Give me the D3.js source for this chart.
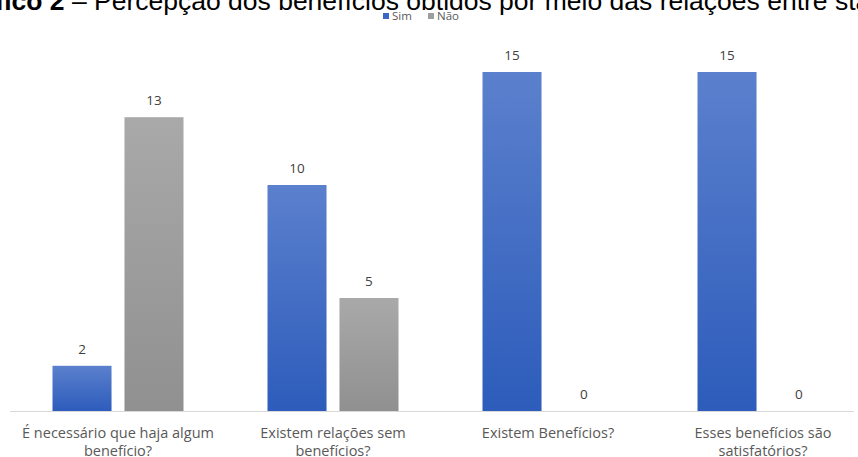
<!DOCTYPE html>
<html>
<head>
<meta charset="utf-8">
<script src="https://cdn.jsdelivr.net/npm/d3@7"></script>
<style>
  body { margin: 0; background: #fff; }
  svg { display: block; }
</style>
</head>
<body>
<div class="canvas"></div>
<script>
const categories = [
  ["É necessário que haja algum", "benefício?"],
  ["Existem relações sem", "benefícios?"],
  ["Existem Benefícios?"],
  ["Esses benefícios são", "satisfatórios?"]
];
const seriesNames = ["Sim", "Não"];
const sim = [2, 10, 15, 15];
const nao = [13, 5, 0, 0];

const dims = { w: 858, h: 457 };
const base = 411;

const svg = d3
  .select(".canvas")
  .append("svg")
  .attr("width", dims.w)
  .attr("height", dims.h);

const defs = svg.append("defs");
const grad = (id, top, bottom) => {
  const g = defs.append("linearGradient")
    .attr("id", id)
    .attr("x1", 0).attr("y1", 0).attr("x2", 0).attr("y2", 1);
  g.append("stop").attr("offset", "0%").attr("stop-color", top);
  g.append("stop").attr("offset", "100%").attr("stop-color", bottom);
};
grad("gSim", "#5b80cd", "#2d5cbb");
grad("gNao", "#a9a9a9", "#909090");
const fills = ["url(#gSim)", "url(#gNao)"];
const legendCols = ["#3a66c4", "#9d9d9d"];

// title (cut off at the top of the picture)
const title = svg.append("text")
  .attr("y", 9.5)
  .attr("font-family", "Liberation Sans, Arial, sans-serif")
  .attr("font-size", 26.5)
  .attr("fill", "#000");
const lead = title.append("tspan").attr("font-weight", "bold").text("Gráfico 2");
const dash = title.append("tspan").text(" – ");
title.append("tspan").text("Percepção dos benefícios obtidos por meio das relações entre stakeholders");
const prefixW = lead.node().getComputedTextLength() + dash.node().getComputedTextLength();
title.attr("x", 94 - prefixW);

const x0 = d3.scaleBand()
  .domain(d3.range(categories.length))
  .range([10.5, 870.5])
  .paddingInner(0)
  .paddingOuter(0);

const x1 = d3.scaleBand()
  .domain(seriesNames)
  .range([42, x0.bandwidth() - 42])
  .paddingInner(0.18);

const y = d3.scaleLinear().domain([0, 15]).range([base, 72]);

const data = categories.map((c, i) => ({ c, vals: [sim[i], nao[i]] }));

const groups = svg.selectAll("g.grp")
  .data(data)
  .enter()
  .append("g")
  .attr("class", "grp")
  .attr("transform", (d, i) => `translate(${x0(i)},0)`);

groups.selectAll("rect")
  .data(d => d.vals.map((v, k) => ({ v, k })))
  .enter()
  .append("rect")
  .attr("x", d => x1(seriesNames[d.k]))
  .attr("y", d => y(d.v))
  .attr("width", x1.bandwidth())
  .attr("height", d => base - y(d.v))
  .attr("fill", d => fills[d.k]);

groups.selectAll("text.val")
  .data(d => d.vals.map((v, k) => ({ v, k })))
  .enter()
  .append("text")
  .attr("class", "val")
  .attr("x", d => x1(seriesNames[d.k]) + x1.bandwidth() / 2)
  .attr("y", d => y(d.v) - 12)
  .attr("text-anchor", "middle")
  .attr("font-family", "Open Sans, sans-serif")
  .attr("font-size", 13.5)
  .attr("fill", "#404040")
  .text(d => d.v);

// axis line
svg.append("line")
  .attr("x1", 10).attr("x2", 854)
  .attr("y1", base + 0.5).attr("y2", base + 0.5)
  .attr("stroke", "#d9d9d9")
  .attr("stroke-width", 1);

// category labels
groups.each(function(d) {
  const t = d3.select(this).append("text")
    .attr("text-anchor", "middle")
    .attr("font-family", "Open Sans, sans-serif")
    .attr("font-size", 14.5)
    .attr("fill", "#595959");
  d.c.forEach((line, j) => {
    t.append("tspan")
      .attr("x", x0.bandwidth() / 2)
      .attr("y", 438 + j * 17.5)
      .text(line);
  });
});

// legend
const legend = svg.append("g").attr("transform", "translate(383,0)");
const items = [{ n: "Sim", x: 0 }, { n: "Não", x: 45 }];
items.forEach((it, k) => {
  legend.append("rect")
    .attr("x", it.x).attr("y", 13)
    .attr("width", 6).attr("height", 6)
    .attr("fill", legendCols[k]);
  legend.append("text")
    .attr("x", it.x + 9).attr("y", 20)
    .attr("font-family", "Open Sans, sans-serif")
    .attr("font-size", 11.5)
    .attr("fill", "#595959")
    .text(it.n);
});
</script>
</body>
</html>
